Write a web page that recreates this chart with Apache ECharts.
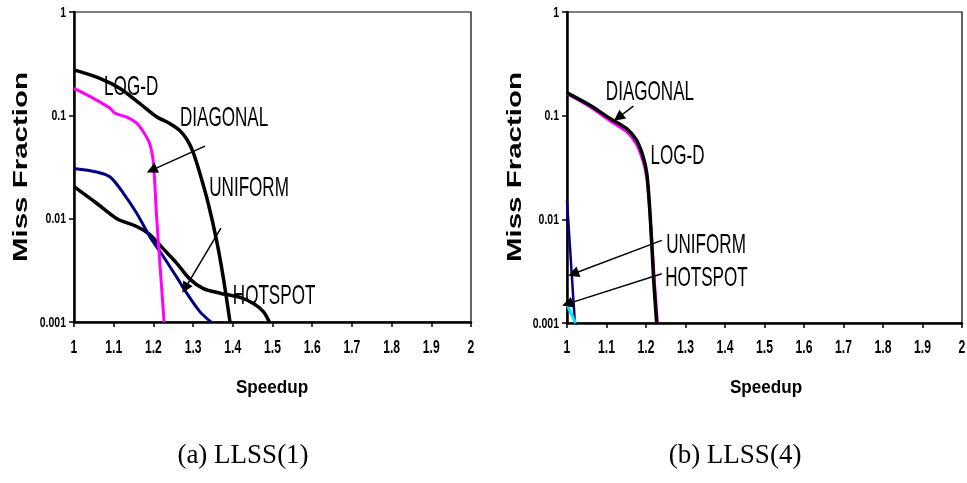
<!DOCTYPE html>
<html>
<head>
<meta charset="utf-8">
<script src="https://cdn.jsdelivr.net/npm/echarts@6/dist/echarts.min.js"></script>
<style>
  html, body { margin: 0; padding: 0; background: #fff; }
  #chart { width: 967px; height: 483px; }
</style>
</head>
<body>
<div id="chart"></div>
<script>
// tick labels
const xTickLabels = ['1', '1.1', '1.2', '1.3', '1.4', '1.5', '1.6', '1.7', '1.8', '1.9', '2']
const yTickLabels = ['0.001', '0.01', '0.1', '1']

// (a) LLSS(1) -- [speedup, miss fraction]
const aLogD = [[1.0, 0.275], [1.065, 0.228], [1.116, 0.182], [1.166, 0.13], [1.208, 0.097], [1.24, 0.084], [1.265, 0.072], [1.285, 0.058], [1.30, 0.044], [1.317, 0.0275], [1.338, 0.0141], [1.359, 0.0062], [1.376, 0.0027], [1.393, 0.001]]
const aDiagonal = [[1.0, 0.182], [1.049, 0.146], [1.091, 0.117], [1.103, 0.105], [1.133, 0.096], [1.158, 0.084], [1.175, 0.069], [1.19, 0.054], [1.198, 0.04], [1.202, 0.0275], [1.208, 0.0105], [1.217, 0.0034], [1.227, 0.001]]
const aUniform = [[1.0, 0.0306], [1.057, 0.0283], [1.091, 0.0253], [1.124, 0.0177], [1.158, 0.0113], [1.191, 0.0067], [1.225, 0.0043], [1.259, 0.0027], [1.284, 0.0019], [1.317, 0.00126], [1.345, 0.001]]
const aHotspot = [[1.0, 0.0204], [1.057, 0.0141], [1.108, 0.01], [1.158, 0.0084], [1.191, 0.007], [1.225, 0.0051], [1.259, 0.0037], [1.292, 0.0026], [1.326, 0.0021], [1.368, 0.0019], [1.418, 0.00173], [1.452, 0.00151], [1.477, 0.00126], [1.492, 0.001]]

// (b) LLSS(4)
const bLogD = [[1.0, 0.166], [1.058, 0.126], [1.109, 0.094], [1.151, 0.075], [1.176, 0.058], [1.193, 0.040], [1.202, 0.0277], [1.208, 0.0152], [1.214, 0.0063], [1.220, 0.0024], [1.227, 0.001]]
const bDiagonal = [[1.0, 0.163], [1.058, 0.122], [1.109, 0.089], [1.151, 0.07], [1.176, 0.053], [1.193, 0.036], [1.202, 0.025], [1.208, 0.014], [1.215, 0.006], [1.222, 0.0023], [1.229, 0.001]]
const bUniform = [[1.0, 0.015], [1.02, 0.001]]
const bHotspot = [[1.0, 0.0015], [1.022, 0.001]]

// annotations: label -> position, arrow from -> to (data coords)
const aNotes = [['LOG-D', [1.144, 0.188]], ['DIAGONAL', [1.378, 0.094]], ['UNIFORM', [1.441, 0.0198]], ['HOTSPOT', [1.504, 0.00178]]]
const aArrows = [[[1.33, 0.0504], [1.196, 0.0295]], [[1.37, 0.0081], [1.28, 0.00213]]]
const bNotes = [['DIAGONAL', [1.21, 0.167]], ['LOG-D', [1.28, 0.0406]], ['UNIFORM', [1.352, 0.0056]], ['HOTSPOT', [1.353, 0.00269]]]
const bArrows = [[[1.168, 0.1236], [1.13, 0.096]], [[1.24, 0.00627], [1.016, 0.00299]], [[1.24, 0.00299], [1.001, 0.00153]]]

const chart = echarts.init(document.getElementById('chart'))

// tick labels are drawn as squeezed text below, so the axis ones are hidden
const xAxis = (i) => ({
  type: 'value', gridIndex: i, min: 1, max: 2, interval: 0.1,
  axisLine: { lineStyle: { color: '#000', width: 2.5 } },
  axisTick: { length: 5, lineStyle: { color: '#000', width: 1.5 } },
  splitLine: { show: false },
  axisLabel: { show: false }
})
const yAxis = (i) => ({
  type: 'log', gridIndex: i, logBase: 10, min: 0.001, max: 1,
  axisLine: { show: true, lineStyle: { color: '#000', width: 2.5 } },
  axisTick: { show: true, length: 5, lineStyle: { color: '#000', width: 1.5 } },
  splitLine: { show: false },
  minorTick: { show: false },
  axisLabel: { show: false }
})

const line = (i, data, color, width, arrows) => {
  const s = {
    type: 'line', xAxisIndex: i, yAxisIndex: i, data, smooth: 0.3,
    showSymbol: false, symbol: 'none', clip: true, silent: true,
    lineStyle: { color, width }
  }
  if (arrows) {
    s.markLine = {
      silent: true, animation: false,
      symbol: ['none', 'triangle'], symbolSize: 11,
      label: { show: false },
      lineStyle: { color: '#000', width: 1.5, type: 'solid' },
      emphasis: { disabled: true },
      data: arrows.map(a => [{ coord: a[0] }, { coord: a[1] }])
    }
  }
  return s
}

chart.setOption({
  animation: false,
  grid: [
    { left: 74, top: 12, width: 397, height: 310, show: true, borderColor: '#000', borderWidth: 1.2 },
    { left: 567, top: 12, width: 395, height: 311, show: true, borderColor: '#000', borderWidth: 1.2 }
  ],
  xAxis: [xAxis(0), xAxis(1)],
  yAxis: [yAxis(0), yAxis(1)],
  series: [
    line(0, aLogD, '#000', 3.5),
    line(0, aHotspot, '#000', 3.5),
    line(0, aUniform, '#000080', 3),
    line(0, aDiagonal, '#ff00ff', 3, aArrows),
    line(1, bDiagonal, '#ff00ff', 3),
    line(1, bLogD, '#000', 3.5),
    line(1, bUniform, '#000080', 2.5),
    line(1, bHotspot, '#00e5ff', 3, bArrows)
  ]
})

function txt(x, y, text, font, extra, align) {
  return Object.assign({
    type: 'text', x, y, z: 100, silent: true,
    style: {
      text, font, fill: '#000',
      align: align || 'center', verticalAlign: 'middle',
      textAlign: align || 'center', textVerticalAlign: 'middle'
    }
  }, extra || {})
}

const sans = '"Liberation Sans", Arial, sans-serif'
const graphics = []
;[0, 1].forEach(g => {
  xTickLabels.forEach(t => {
    const p = chart.convertToPixel({ gridIndex: g }, [+t, 0.001])
    graphics.push(txt(p[0], 348, t, 'bold 19px ' + sans, { scaleX: 0.64 }))
  })
  yTickLabels.forEach(t => {
    const p = chart.convertToPixel({ gridIndex: g }, [1, +t])
    graphics.push(txt(p[0] - 8, p[1] + 0.5, t, 'bold 15px ' + sans, { scaleX: 0.7 }, 'right'))
  })
})
aNotes.forEach(n => {
  const p = chart.convertToPixel({ gridIndex: 0 }, n[1])
  graphics.push(txt(p[0], p[1], n[0], '28px ' + sans, { scaleX: 0.61 }))
})
bNotes.forEach(n => {
  const p = chart.convertToPixel({ gridIndex: 1 }, n[1])
  graphics.push(txt(p[0], p[1], n[0], '28px ' + sans, { scaleX: 0.61 }))
})
const bold = 'bold 29.5px ' + sans
graphics.push(txt(21, 167, 'Miss Fraction', bold, { rotation: Math.PI / 2, scaleY: 0.68 }))
graphics.push(txt(515, 167, 'Miss Fraction', bold, { rotation: Math.PI / 2, scaleY: 0.68 }))
graphics.push(txt(272, 388, 'Speedup', 'bold 19px ' + sans, { scaleX: 0.9 }))
graphics.push(txt(766, 388, 'Speedup', 'bold 19px ' + sans, { scaleX: 0.9 }))
graphics.push(txt(243, 456, '(a) LLSS(1)', '27px "Liberation Serif", "DejaVu Serif", serif'))
graphics.push(txt(735, 456, '(b) LLSS(4)', '27px "Liberation Serif", "DejaVu Serif", serif'))

chart.setOption({ graphic: graphics })
</script>
</body>
</html>
